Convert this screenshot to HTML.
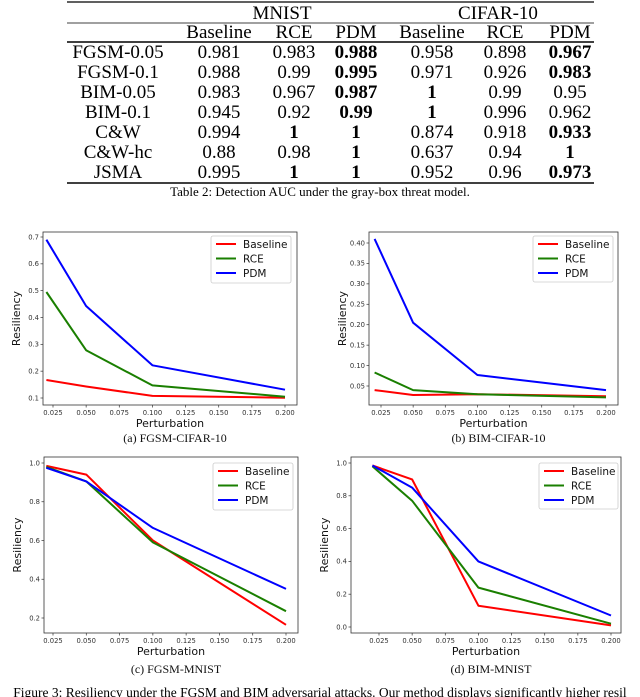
<!DOCTYPE html>
<html><head><meta charset="utf-8">
<style>
html,body{margin:0;padding:0;background:#fff;}
body{width:640px;height:697px;overflow:hidden;position:relative;}
svg{position:absolute;left:0;top:0;}
</style></head>
<body>
<svg id="fig" width="640" height="697" xmlns="http://www.w3.org/2000/svg">
<g id="table" font-family="'Liberation Serif', serif" font-size="19" fill="#000" text-anchor="middle">
  <line x1="67" y1="2" x2="594" y2="2" stroke="#000" stroke-width="1.2"/>
  <text x="282" y="19">MNIST</text>
  <text x="498" y="19">CIFAR-10</text>
  <line x1="67" y1="23" x2="594" y2="23" stroke="#000" stroke-width="0.8"/>
  <g id="hdr"></g>
  <line x1="67" y1="42" x2="594" y2="42" stroke="#000" stroke-width="1.5"/>
  <g id="rows"></g>
  <line x1="67" y1="183" x2="594" y2="183" stroke="#000" stroke-width="1.5"/>
  <text x="320" y="196" font-size="13">Table 2: Detection AUC under the gray-box threat model.</text>
</g>
<g id="charts"></g>
<text x="320" y="697" font-family="'Liberation Serif', serif" font-size="13.5" text-anchor="middle">Figure 3: Resiliency under the FGSM and BIM adversarial attacks. Our method displays significantly higher resil</text>
</svg>
<script>
const NS="http://www.w3.org/2000/svg";
function mk(tag,attrs,parent,text){const e=document.createElementNS(NS,tag);for(const k in attrs)e.setAttribute(k,attrs[k]);if(text!==undefined)e.textContent=text;parent.appendChild(e);return e;}

// table data
const colHeaders=["Baseline","RCE","PDM","Baseline","RCE","PDM"];
const rowLabels=["FGSM-0.05","FGSM-0.1","BIM-0.05","BIM-0.1","C&W","C&W-hc","JSMA"];
const tableValues=[
 ["0.981","0.983","*0.988","0.958","0.898","*0.967"],
 ["0.988","0.99","*0.995","0.971","0.926","*0.983"],
 ["0.983","0.967","*0.987","*1","0.99","0.95"],
 ["0.945","0.92","*0.99","*1","0.996","0.962"],
 ["0.994","*1","*1","0.874","0.918","*0.933"],
 ["0.88","0.98","*1","0.637","0.94","*1"],
 ["0.995","*1","*1","0.952","0.96","*0.973"]];
const colX=[219,294,356,432,505,570];
const hdr=document.getElementById('hdr');
colHeaders.forEach((h,i)=>{const t=mk('text',{x:colX[i],y:38},hdr,h);

});
const rows=document.getElementById('rows');
rowLabels.forEach((r,ri)=>{const y=58+ri*20;
 const l=mk('text',{x:118,y:y},rows,r);
 
 
 tableValues[ri].forEach((v,ci)=>{const b=v[0]==='*';const t=mk('text',{x:colX[ci],y:y,'font-weight':b?'bold':'normal'},rows,b?v.slice(1):v);
 
 });
});

// chart data
const xVals=[0.02,0.05,0.1,0.2];
const xTicks=[0.025,0.05,0.075,0.1,0.125,0.15,0.175,0.2];
const xTickLabels=["0.025","0.050","0.075","0.100","0.125","0.150","0.175","0.200"];
const seriesNames=["Baseline","RCE","PDM"];
const seriesColors=["#ff0000","#1a7f00","#0000ff"];
const aBaseline=[0.167,0.143,0.108,0.101], aRCE=[0.495,0.278,0.147,0.105], aPDM=[0.69,0.443,0.222,0.131];
const bBaseline=[0.040,0.028,0.030,0.025], bRCE=[0.083,0.040,0.030,0.022], bPDM=[0.41,0.205,0.077,0.040];
const cBaseline=[0.985,0.94,0.60,0.165], cRCE=[0.98,0.905,0.59,0.235], cPDM=[0.975,0.905,0.665,0.35];
const dBaseline=[0.985,0.90,0.13,0.01], dRCE=[0.98,0.77,0.24,0.02], dPDM=[0.985,0.85,0.40,0.07];
const aYTicks=[0.1,0.2,0.3,0.4,0.5,0.6,0.7], aYLabels=["0.1","0.2","0.3","0.4","0.5","0.6","0.7"];
const bYTicks=[0.05,0.1,0.15,0.2,0.25,0.3,0.35,0.4], bYLabels=["0.05","0.10","0.15","0.20","0.25","0.30","0.35","0.40"];
const cYTicks=[0.2,0.4,0.6,0.8,1.0], cYLabels=["0.2","0.4","0.6","0.8","1.0"];
const dYTicks=[0,0.2,0.4,0.6,0.8,1.0], dYLabels=["0.0","0.2","0.4","0.6","0.8","1.0"];

const charts=[
 {id:'a',name:'fgsm-cifar10',series:[aBaseline,aRCE,aPDM],yt:aYTicks,yl:aYLabels,
  box:[43,232,297,405],xp:[0.025,53,0.2,285],yp:[0.7,237,0.1,398],leg:[211,236,80,47],cap:"(a) FGSM-CIFAR-10",capY:442},
 {id:'b',name:'bim-cifar10',series:[bBaseline,bRCE,bPDM],yt:bYTicks,yl:bYLabels,
  box:[369,232,618,405],xp:[0.025,381,0.2,606],yp:[0.4,243,0.05,386],leg:[533,236,80,46],cap:"(b) BIM-CIFAR-10",capY:442},
 {id:'c',name:'fgsm-mnist',series:[cBaseline,cRCE,cPDM],yt:cYTicks,yl:cYLabels,
  box:[44,457,298,633],xp:[0.025,53,0.2,286],yp:[1.0,463,0.2,618],leg:[213,463,80,47],cap:"(c) FGSM-MNIST",capY:673},
 {id:'d',name:'bim-mnist',series:[dBaseline,dRCE,dPDM],yt:dYTicks,yl:dYLabels,
  box:[351,457,621,633],xp:[0.025,379,0.2,611],yp:[1.0,463,0.0,627],leg:[539,463,79,46],cap:"(d) BIM-MNIST",capY:673}
];
const root=document.getElementById('charts');
charts.forEach(c=>{
 const g=mk('g',{'font-family':"'DejaVu Sans', sans-serif"},root);
 
 
 const [x0,y0,x1,y1]=c.box;
 const sx=v=>c.xp[1]+(v-c.xp[0])*(c.xp[3]-c.xp[1])/(c.xp[2]-c.xp[0]);
 const sy=v=>c.yp[1]+(v-c.yp[0])*(c.yp[3]-c.yp[1])/(c.yp[2]-c.yp[0]);
 const fr=mk('rect',{x:x0,y:y0,width:x1-x0,height:y1-y0,fill:'none',stroke:'#333','stroke-width':0.8},g);
 
 
 xTicks.forEach((t,i)=>{const x=sx(t);
  mk('line',{x1:x,x2:x,y1:y1,y2:y1+2.5,stroke:'#333','stroke-width':0.7},g);
  const tl=mk('text',{x:x,y:y1+10,'font-size':6.8,'text-anchor':'middle',fill:'#333'},g,xTickLabels[i]);
  
  });
 c.yt.forEach((t,i)=>{const y=sy(t);
  mk('line',{x1:x0-2.5,x2:x0,y1:y,y2:y,stroke:'#333','stroke-width':0.7},g);
  const tl=mk('text',{x:x0-4,y:y+2.3,'font-size':6.8,'text-anchor':'end',fill:'#333'},g,c.yl[i]);
  
  });
 const xl=mk('text',{x:(x0+x1)/2,y:y1+22,'font-size':11,'text-anchor':'middle',fill:'#111'},g,'Perturbation');
 
 
 const ylx=x0-23, yly=(y0+y1)/2;
 const yl=mk('text',{x:ylx,y:yly,'font-size':11,'text-anchor':'middle',fill:'#111',transform:`rotate(-90 ${ylx} ${yly})`},g,'Resiliency');
 
 
 c.series.forEach((s,si)=>{
  const pts=s.map((v,i)=>sx(xVals[i]).toFixed(1)+','+sy(v).toFixed(1)).join(' ');
  const p=mk('polyline',{points:pts,fill:'none',stroke:seriesColors[si],'stroke-width':2,'stroke-linejoin':'round'},g);
  
  
 });
 const [lx,ly,lw,lh]=c.leg;
 const lg=mk('g',{},g);
 
 
 mk('rect',{x:lx,y:ly,width:lw,height:lh,fill:'#fff',stroke:'#ccc','stroke-width':0.8,rx:2},lg);
 seriesNames.forEach((n,i)=>{const yy=ly+8+i*14.5;
  mk('line',{x1:lx+5,x2:lx+25,y1:yy,y2:yy,stroke:seriesColors[i],'stroke-width':2},lg);
  const t=mk('text',{x:lx+32,y:yy+4,'font-size':10.5,fill:'#111'},lg,n);
  
  });
 const cp=mk('text',{x:(x0+x1)/2+5,y:c.capY,'font-size':12,'text-anchor':'middle','font-family':"'Liberation Serif', serif",fill:'#111'},g,c.cap);
 
 
});
</script>
</body></html>
